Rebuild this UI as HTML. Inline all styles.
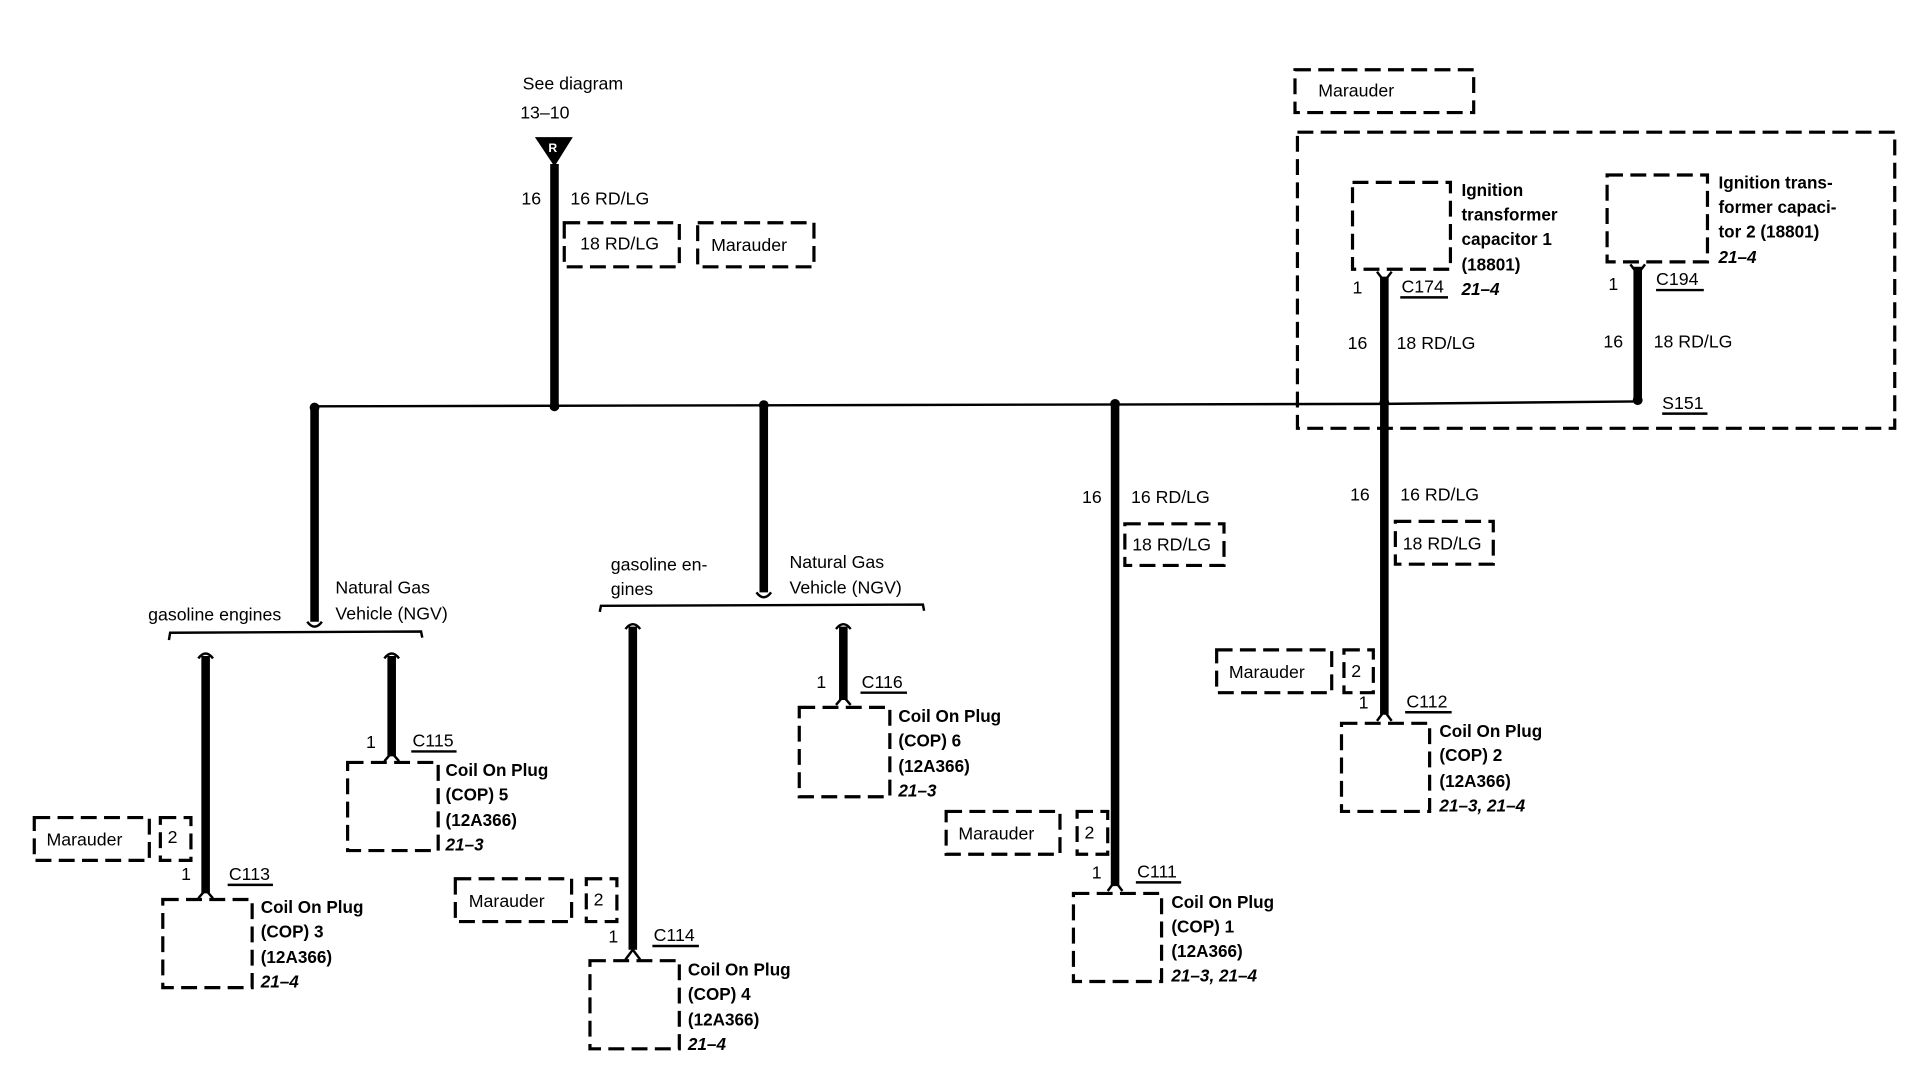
<!DOCTYPE html>
<html><head><meta charset="utf-8"><style>
html,body{margin:0;padding:0;background:#fff;width:1918px;height:1088px;overflow:hidden}
svg{display:block}
text{font-family:"Liberation Sans",Arial,sans-serif;font-size:14.5px;fill:#000}
.b{font-weight:bold;font-size:14px}
.i{font-weight:bold;font-style:italic;font-size:14px}
.d{fill:none;stroke:#000;stroke-width:2.6;stroke-dasharray:13 6}
.w{stroke:#000;stroke-width:7;fill:none}
.t{stroke:#000;stroke-width:2;fill:none}
</style></head><body>
<svg width="1918" height="1088" viewBox="0 0 1567 889" preserveAspectRatio="none" xmlns="http://www.w3.org/2000/svg">
<!-- top -->
<text x="427" y="73">See diagram</text>
<text x="425" y="97">13–10</text>
<polygon points="437,112 468,112 453,136" fill="#000"/>
<text x="448" y="124" style="font-size:10px;fill:#fff;font-weight:bold">R</text>
<line class="w" x1="453" y1="134" x2="453" y2="332"/>
<text x="426" y="167">16</text><text x="466" y="167">16 RD/LG</text>
<rect class="d" x="461" y="182" width="94" height="36"/><text x="474" y="204">18 RD/LG</text>
<rect class="d" x="570" y="182" width="95" height="36"/><text x="581" y="205">Marauder</text>
<!-- main bus -->
<line class="t" x1="257" y1="332" x2="1131" y2="330"/>
<line class="t" x1="1131" y1="330" x2="1338" y2="328"/>
<g fill="#000"><circle cx="257" cy="333" r="4"/><circle cx="453" cy="332" r="4"/><circle cx="624" cy="331" r="4"/><circle cx="911" cy="330" r="4"/><circle cx="1131" cy="329" r="4"/><circle cx="1338" cy="327" r="4"/></g>
<!-- right Marauder region -->
<rect class="d" x="1058" y="57" width="146" height="35"/><text x="1077" y="79">Marauder</text>
<rect class="d" x="1060" y="108" width="488" height="242"/>
<rect class="d" x="1105" y="149" width="80" height="71"/>
<text class="b" x="1194" y="160">Ignition</text><text class="b" x="1194" y="180">transformer</text><text class="b" x="1194" y="200">capacitor 1</text><text class="b" x="1194" y="221">(18801)</text><text class="i" x="1194" y="241">21–4</text>
<line class="w" x1="1131" y1="226" x2="1131" y2="584"/>
<path d="M1125,222 L1131,230 L1137,222" class="t" stroke-width="3"/>
<text x="1105" y="240">1</text><text x="1145" y="239">C174</text><line class="t" x1="1144" y1="243" x2="1183" y2="243" stroke-width="1"/>
<text x="1101" y="285">16</text><text x="1141" y="285">18 RD/LG</text>
<rect class="d" x="1313" y="143" width="82" height="71"/>
<text class="b" x="1404" y="154">Ignition trans-</text><text class="b" x="1404" y="174">former capaci-</text><text class="b" x="1404" y="194">tor 2 (18801)</text><text class="i" x="1404" y="215">21–4</text>
<line class="w" x1="1338" y1="218" x2="1338" y2="326"/>
<path d="M1332,216 L1338,224 L1344,216" class="t" stroke-width="3"/>
<text x="1314" y="237">1</text><text x="1353" y="233">C194</text><line class="t" x1="1353" y1="237" x2="1392" y2="237" stroke-width="1"/>
<text x="1310" y="284">16</text><text x="1351" y="284">18 RD/LG</text>
<text x="1358" y="334">S151</text><line class="t" x1="1358" y1="338" x2="1395" y2="338" stroke-width="1"/>
<!-- COP2 -->
<text x="1103" y="409">16</text><text x="1144" y="409">16 RD/LG</text>
<rect class="d" x="1140" y="426" width="80" height="35"/><text x="1146" y="449">18 RD/LG</text>
<rect class="d" x="994" y="531" width="94" height="35"/><text x="1004" y="554">Marauder</text>
<rect class="d" x="1098" y="531" width="24" height="35"/><text x="1104" y="553">2</text>
<text x="1110" y="579">1</text><text x="1149" y="578">C112</text><line class="t" x1="1148" y1="582" x2="1186" y2="582" stroke-width="1"/>
<path d="M1125,589 L1131,581 L1137,589" class="t" stroke-width="3"/>
<rect class="d" x="1096" y="591" width="72" height="72"/>
<text class="b" x="1176" y="602">Coil On Plug</text><text class="b" x="1176" y="622">(COP) 2</text><text class="b" x="1176" y="643">(12A366)</text><text class="i" x="1176" y="663">21–3, 21–4</text>
<!-- COP1 -->
<line class="w" x1="911" y1="332" x2="911" y2="724"/>
<text x="884" y="411">16</text><text x="924" y="411">16 RD/LG</text>
<rect class="d" x="919" y="428" width="81" height="34"/><text x="925" y="450">18 RD/LG</text>
<rect class="d" x="773" y="663" width="93" height="35"/><text x="783" y="686">Marauder</text>
<rect class="d" x="880" y="663" width="25" height="35"/><text x="886" y="685">2</text>
<text x="892" y="718">1</text><text x="929" y="717">C111</text><line class="t" x1="928" y1="721" x2="965" y2="721" stroke-width="1"/>
<path d="M905,728 L911,720 L917,728" class="t" stroke-width="3"/>
<rect class="d" x="877" y="730" width="72" height="72"/>
<text class="b" x="957" y="742">Coil On Plug</text><text class="b" x="957" y="762">(COP) 1</text><text class="b" x="957" y="782">(12A366)</text><text class="i" x="957" y="802">21–3, 21–4</text>
<!-- branch 624 -->
<line class="w" x1="624" y1="332" x2="624" y2="484"/>
<path d="M618,484 Q624,492 630,484" class="t" stroke-width="3"/>
<path d="M490,500 L491,495 L754,494 L755,499" class="t" stroke-width="3"/>
<text x="499" y="466">gasoline en-</text><text x="499" y="486">gines</text>
<text x="645" y="464">Natural Gas</text><text x="645" y="485">Vehicle (NGV)</text>
<line class="w" x1="517" y1="512" x2="517" y2="776"/>
<path d="M511,514 Q517,506 523,514" class="t" stroke-width="3"/>
<line class="w" x1="689" y1="512" x2="689" y2="572"/>
<path d="M683,514 Q689,506 695,514" class="t" stroke-width="3"/>
<text x="667" y="562">1</text><text x="704" y="562">C116</text><line class="t" x1="703" y1="566" x2="741" y2="566" stroke-width="1"/>
<path d="M683,576 L689,569 L695,576" class="t" stroke-width="3"/>
<rect class="d" x="653" y="578" width="74" height="73"/>
<text class="b" x="734" y="590">Coil On Plug</text><text class="b" x="734" y="610">(COP) 6</text><text class="b" x="734" y="631">(12A366)</text><text class="i" x="734" y="651">21–3</text>
<rect class="d" x="372" y="718" width="95" height="35"/><text x="383" y="741">Marauder</text>
<rect class="d" x="479" y="718" width="25" height="35"/><text x="485" y="740">2</text>
<text x="497" y="770">1</text><text x="534" y="769">C114</text><line class="t" x1="533" y1="773" x2="571" y2="773" stroke-width="1"/>
<path d="M511,784 L517,776 L523,784" class="t" stroke-width="3"/>
<rect class="d" x="482" y="785" width="73" height="72"/>
<text class="b" x="562" y="797">Coil On Plug</text><text class="b" x="562" y="817">(COP) 4</text><text class="b" x="562" y="838">(12A366)</text><text class="i" x="562" y="858">21–4</text>
<!-- branch 257 -->
<line class="w" x1="257" y1="334" x2="257" y2="508"/>
<path d="M251,508 Q257,516 263,508" class="t" stroke-width="3"/>
<path d="M138,523 L139,517 L344,516 L345,521" class="t" stroke-width="3"/>
<text x="121" y="507">gasoline engines</text>
<text x="274" y="485">Natural Gas</text><text x="274" y="506">Vehicle (NGV)</text>
<line class="w" x1="168" y1="536" x2="168" y2="730"/>
<path d="M162,538 Q168,530 174,538" class="t" stroke-width="3"/>
<line class="w" x1="320" y1="536" x2="320" y2="618"/>
<path d="M314,538 Q320,530 326,538" class="t" stroke-width="3"/>
<text x="299" y="611">1</text><text x="337" y="610">C115</text><line class="t" x1="336" y1="614" x2="373" y2="614" stroke-width="1"/>
<path d="M314,622 L320,615 L326,622" class="t" stroke-width="3"/>
<rect class="d" x="284" y="623" width="74" height="72"/>
<text class="b" x="364" y="634">Coil On Plug</text><text class="b" x="364" y="654">(COP) 5</text><text class="b" x="364" y="675">(12A366)</text><text class="i" x="364" y="695">21–3</text>
<rect class="d" x="28" y="668" width="94" height="35"/><text x="38" y="691">Marauder</text>
<rect class="d" x="131" y="668" width="25" height="35"/><text x="137" y="689">2</text>
<text x="148" y="719">1</text><text x="187" y="719">C113</text><line class="t" x1="186" y1="723" x2="223" y2="723" stroke-width="1"/>
<path d="M162,734 L168,727 L174,734" class="t" stroke-width="3"/>
<rect class="d" x="133" y="735" width="73" height="72"/>
<text class="b" x="213" y="746">Coil On Plug</text><text class="b" x="213" y="766">(COP) 3</text><text class="b" x="213" y="787">(12A366)</text><text class="i" x="213" y="807">21–4</text>
</svg>
</body></html>
